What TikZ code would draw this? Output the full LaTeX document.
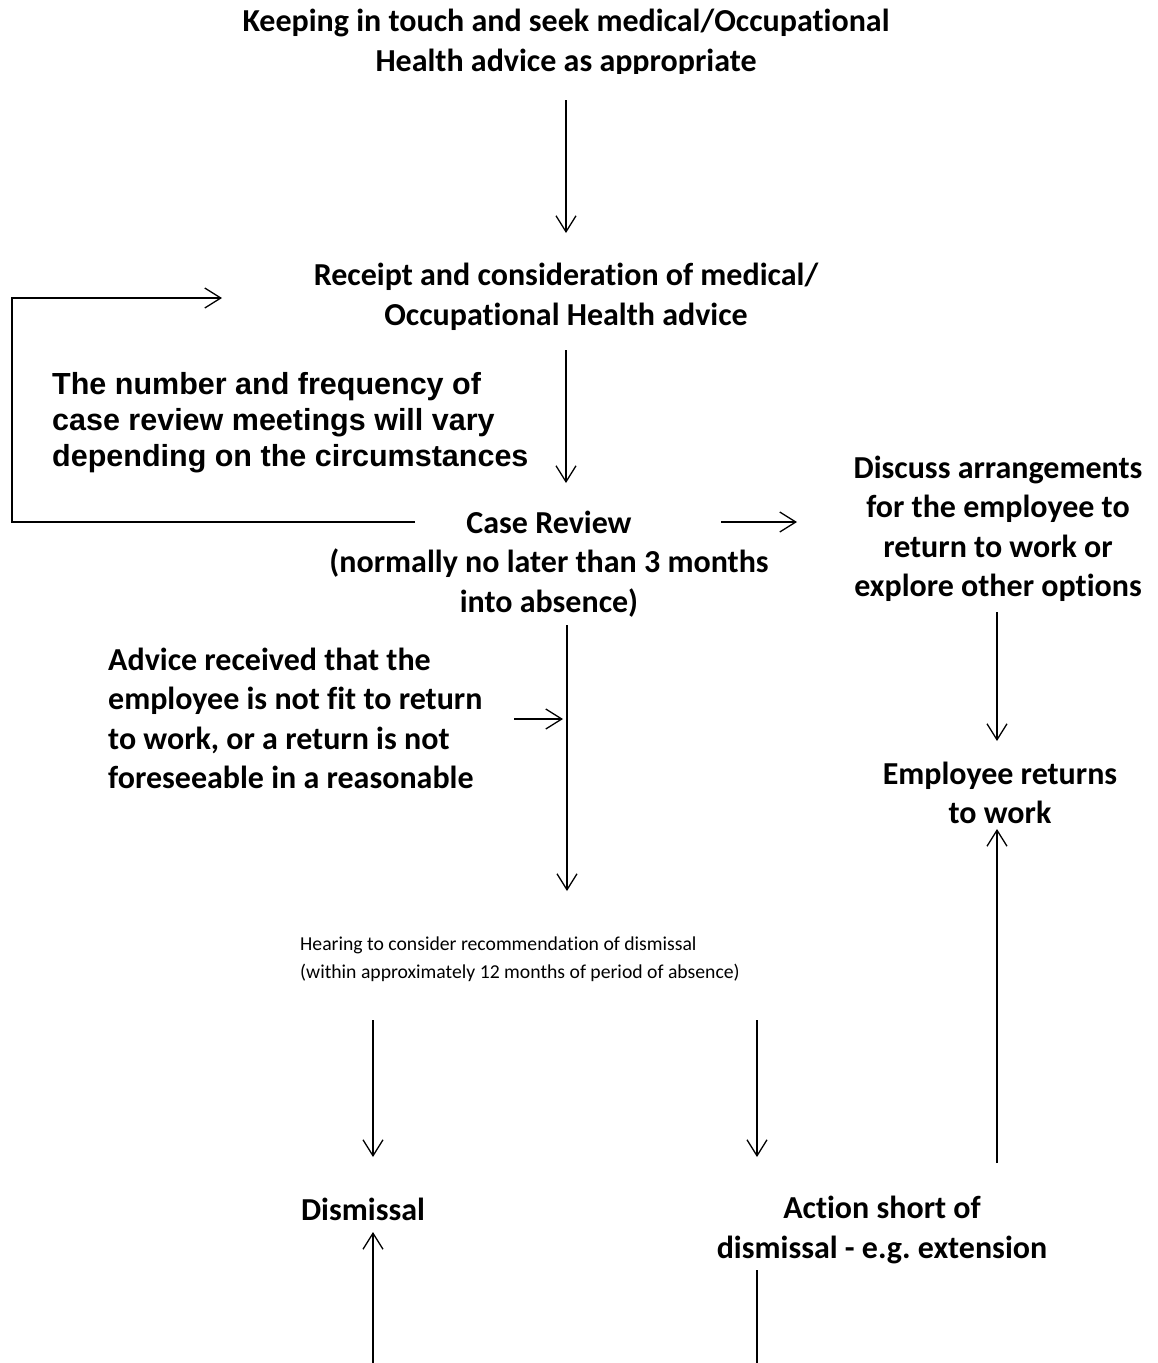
\documentclass[tikz,border=0pt]{standalone}
\usepackage{fontspec}
\setmainfont[RawFeature=-liga]{Carlito}
\newfontfamily\arialfont{Liberation Sans}
\usetikzlibrary{arrows.meta}
\frenchspacing

\tikzset{
  stepbold/.style={font=\fontsize{32}{39.5}\selectfont\bfseries, align=center, inner sep=0pt},
  notetext/.style={font=\arialfont\fontsize{30.5}{36}\selectfont\bfseries, align=left, inner sep=0pt},
  advicetext/.style={font=\fontsize{32}{39.5}\selectfont\bfseries, align=left, inner sep=0pt},
  hearingtext/.style={font=\fontsize{19.7}{28}\selectfont, align=left, inner sep=0pt},
  arr/.style={-{Straight Barb[length=16pt,width=20pt]}, line width=1.3pt},
  plainline/.style={line width=1.3pt}
}

\begin{document}
\begin{tikzpicture}[x=1pt,y=-1pt]
\useasboundingbox (0,0) rectangle (1157,1363);

% the steps
\begin{scope}
\clip (0,0) rectangle (1157,73);
\node[stepbold] (keep) at (566,43) {Keeping in touch and seek medical/Occupational\\Health advice as appropriate};
\end{scope}
\node[stepbold] (receipt) at (566,297) {Receipt and consideration of medical/\\Occupational Health advice};
\node[notetext, anchor=west] (freq) at (52,423) {The number and frequency of\\case review meetings will vary\\depending on the circumstances};
\node[stepbold] (review) at (549,564) {Case Review\\(normally no later than 3 months\\into absence)};
\node[stepbold] (discuss) at (998,529) {Discuss arrangements\\for the employee to\\return to work or\\explore other options};
\node[stepbold] (returns) at (1000,793) {Employee returns\\to work};
\begin{scope}
\clip (0,600) rectangle (1157,802);
\node[advicetext, anchor=west] (advice) at (108,738) {Advice received that the\\employee is not fit to return\\to work, or a return is not\\foreseeable in a reasonable\\time frame};
\end{scope}
\node[hearingtext, anchor=west] (hearing) at (300,959) {Hearing to consider recommendation of dismissal\\(within approximately 12 months of period of absence)};
\node[stepbold] (dismissal) at (363,1209) {Dismissal};
\node[stepbold] (action) at (882,1230) {Action short of\\dismissal - e.g. extension};

% arrow ends
\coordinate (k1) at (566,100);   \coordinate (k2) at (566,233);
\coordinate (r1) at (566,350);   \coordinate (r2) at (566,483);
\coordinate (l1) at (415,522);   \coordinate (l2) at (12,522);
\coordinate (l3) at (12,298);    \coordinate (l4) at (222,298);
\coordinate (c1) at (721,522);   \coordinate (c2) at (797,522);
\coordinate (c3) at (567,625);   \coordinate (c4) at (567,891);
\coordinate (a1) at (514,719);   \coordinate (a2) at (563,719);
\coordinate (d1) at (997,612);   \coordinate (d2) at (997,741);
\coordinate (e1) at (997,1163);  \coordinate (e2) at (997,829);
\coordinate (h1) at (373,1020);  \coordinate (h2) at (373,1157);
\coordinate (h3) at (757,1020);  \coordinate (h4) at (757,1157);
\coordinate (b1) at (373,1363);  \coordinate (b2) at (373,1232);
\coordinate (b3) at (757,1270);  \coordinate (b4) at (757,1363);

% connectors
\draw[arr] (k1) -- (k2);
\draw[arr] (r1) -- (r2);
\draw[arr] (l1) -- (l2) -- (l3) -- (l4);
\draw[arr] (c1) -- (c2);
\draw[arr] (c3) -- (c4);
\draw[arr] (a1) -- (a2);
\draw[arr] (d1) -- (d2);
\draw[arr] (e1) -- (e2);
\draw[arr] (h1) -- (h2);
\draw[arr] (h3) -- (h4);
\draw[arr] (b1) -- (b2);
\draw[plainline] (b3) -- (b4);
\end{tikzpicture}
\end{document}
